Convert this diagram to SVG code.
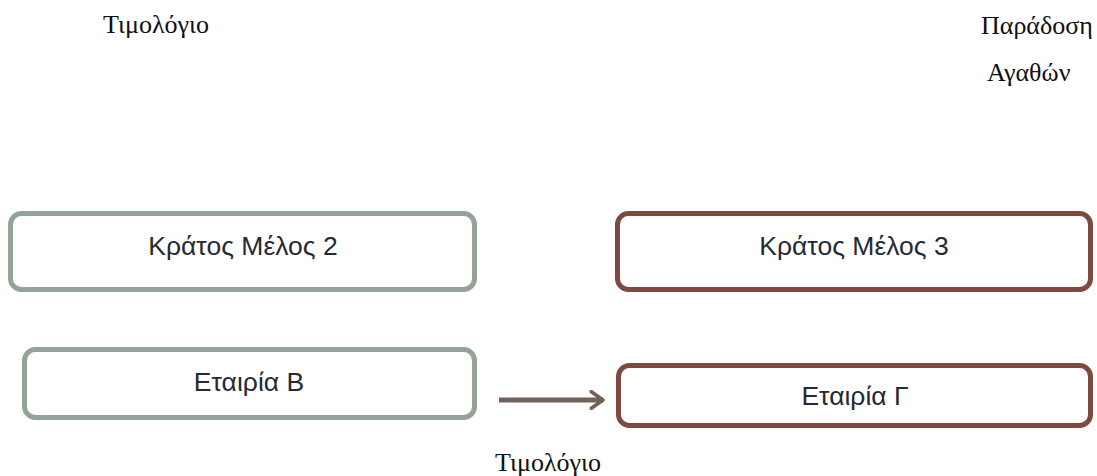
<svg xmlns="http://www.w3.org/2000/svg" width="1097" height="476" viewBox="0 0 1097 476">
  <style>
    .box { fill: #ffffff; stroke-width: 5; }
    .green { stroke: #94a397; }
    .brown { stroke: #7c4a40; }
    .label { font-family: "Liberation Sans", Arial, sans-serif; font-size: 26.5px; fill: #262a33; text-anchor: middle; }
    .note { font-family: "Liberation Serif", "Times New Roman", serif; font-size: 26px; fill: #111111; }
  </style>
  <defs>
    <marker id="head" viewBox="0 0 12 12" refX="9" refY="6" markerWidth="4" markerHeight="4" orient="auto" markerUnits="strokeWidth">
      <path d="M2,1 L9,6 L2,11" fill="none" stroke="#73625a" stroke-width="2.2" stroke-linecap="round" stroke-linejoin="round"/>
    </marker>
  </defs>

  <rect width="1097" height="476" fill="#ffffff"/>

  <!-- free-standing notes -->
  <text class="note" x="103" y="33">Τιμολόγιο</text>
  <text class="note" x="981" y="34">Παράδοση</text>
  <text class="note" x="987" y="81">Αγαθών</text>
  <text class="note" x="495" y="471">Τιμολόγιο</text>

  <g id="state2">
    <rect class="box green" x="10.5" y="213.5" width="464" height="76" rx="11"/>
    <text class="label" x="243" y="255">Κράτος Μέλος 2</text>
  </g>

  <g id="state3">
    <rect class="box brown" x="617.5" y="213.5" width="473" height="76" rx="11"/>
    <text class="label" x="854" y="255">Κράτος Μέλος 3</text>
  </g>

  <g id="companyB">
    <rect class="box green" x="24.5" y="349.5" width="450" height="68" rx="11"/>
    <text class="label" x="249" y="391">Εταιρία Β</text>
  </g>

  <g id="companyG">
    <rect class="box brown" x="618.5" y="365.5" width="472" height="60" rx="11"/>
    <text class="label" x="855" y="405">Εταιρία Γ</text>
  </g>

  <g id="connectors">
    <line x1="499" y1="400" x2="603" y2="400" stroke="#73625a" stroke-width="5" marker-end="url(#head)"/>
  </g>
</svg>
